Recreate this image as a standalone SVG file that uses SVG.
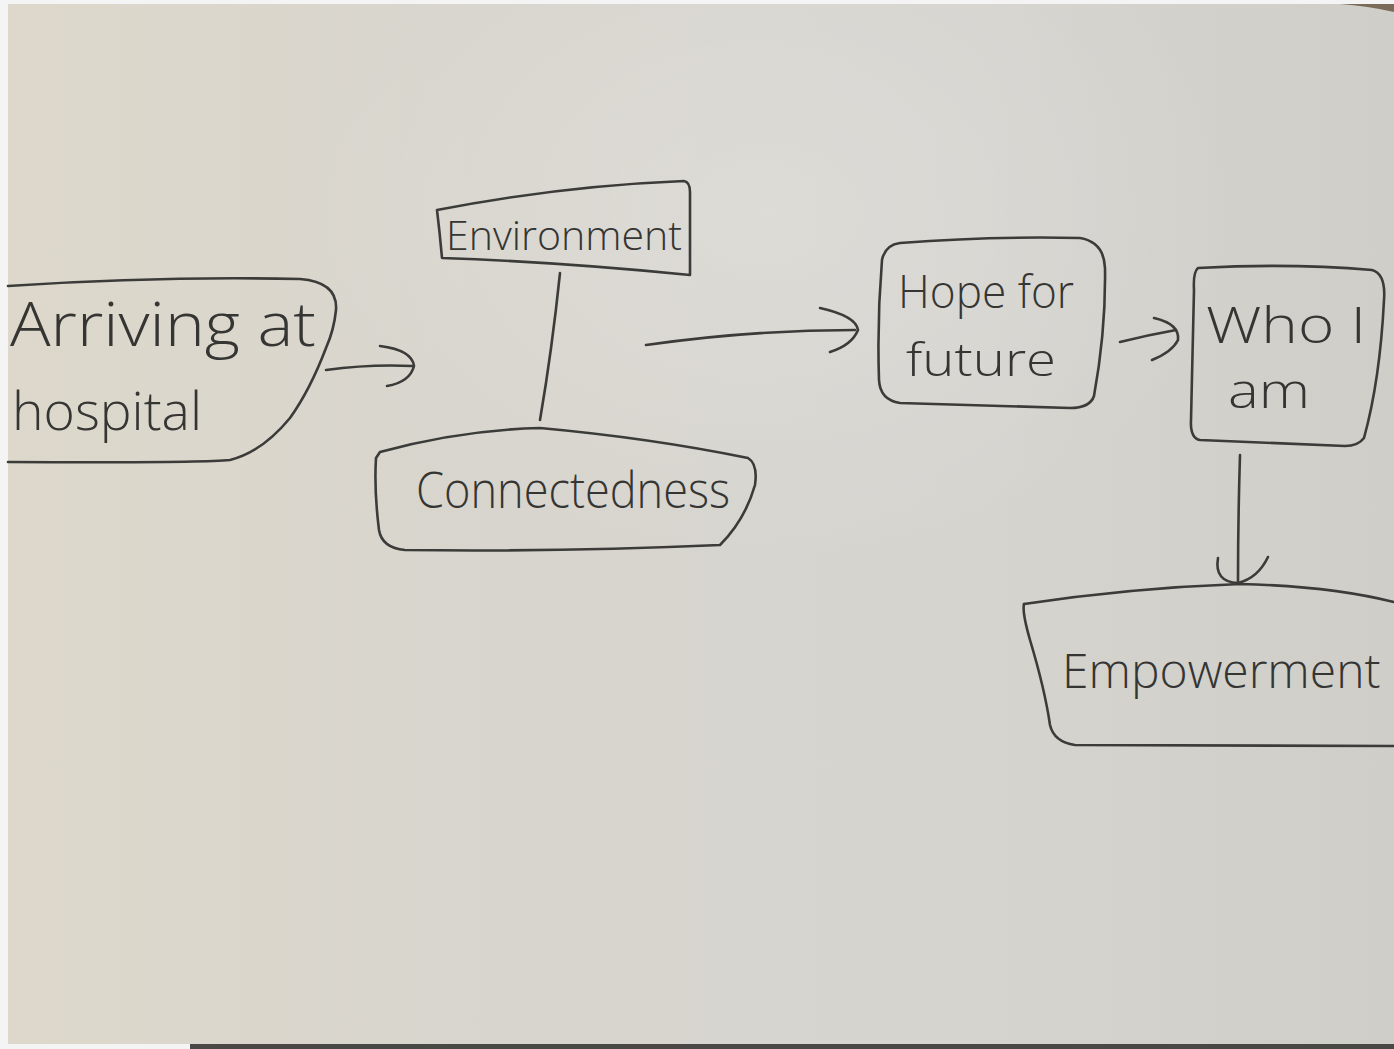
<svg xmlns="http://www.w3.org/2000/svg" width="1394" height="1049" viewBox="0 0 1394 1049">
  <defs>
    <linearGradient id="paper" x1="0" y1="0" x2="1" y2="0">
      <stop offset="0" stop-color="#ddd8cb"/>
      <stop offset="0.35" stop-color="#d8d5ce"/>
      <stop offset="0.7" stop-color="#d5d4cf"/>
      <stop offset="1" stop-color="#cfcec9"/>
    </linearGradient>
    <radialGradient id="crease" cx="0.55" cy="0.2" r="0.35">
      <stop offset="0" stop-color="#ffffff" stop-opacity="0.16"/>
      <stop offset="1" stop-color="#ffffff" stop-opacity="0"/>
    </radialGradient>
    <style>
      .ink { fill: none; stroke: #3b3b39; stroke-width: 2.6; stroke-linecap: round; stroke-linejoin: round; }
      .hand { fill: #353533; font-family: "Open Sans", "DejaVu Sans", sans-serif; font-weight: 300; }
    </style>
  </defs>

  <!-- paper sheet -->
  <rect x="0" y="0" width="1394" height="1049" fill="#f4f4f4"/>
  <rect x="8" y="4" width="1386" height="1040" fill="url(#paper)"/>
  <rect x="8" y="4" width="1386" height="1040" fill="url(#crease)"/>
  <path d="M1340 4 L1394 4 L1394 12 Q1368 6 1340 4 Z" fill="#7a6a58"/>
  <rect x="190" y="1044" width="1204" height="5" fill="#4a4844"/>

  <!-- nodes -->
  <g id="arriving">
    <path class="ink" d="M8 286 Q160 276 300 279 Q338 282 336 310 Q334 330 326 348 Q310 390 290 418 Q262 452 230 460 Q200 463 8 462"/>
    <text class="hand" x="10" y="346" font-size="60" textLength="306" lengthAdjust="spacingAndGlyphs">Arriving at</text>
    <text class="hand" x="12" y="430" font-size="54" textLength="190" lengthAdjust="spacingAndGlyphs">hospital</text>
  </g>

  <g id="environment">
    <path class="ink" d="M437 210 Q560 186 684 181 Q690 182 690 192 L690 275 Q560 262 442 258 Q440 235 437 210 Z"/>
    <text class="hand" x="446" y="250" font-size="40" textLength="236" lengthAdjust="spacingAndGlyphs">Environment</text>
  </g>

  <g id="connectedness">
    <path class="ink" d="M380 452 Q460 430 540 428 Q650 438 748 458 Q758 464 755 485 Q745 520 720 545 Q560 552 405 550 Q382 548 379 530 Q374 490 376 458 Z"/>
    <text class="hand" x="416" y="508" font-size="50" textLength="314" lengthAdjust="spacingAndGlyphs">Connectedness</text>
  </g>

  <g id="hope">
    <path class="ink" d="M900 243 Q990 236 1080 238 Q1104 242 1105 268 Q1106 330 1094 396 Q1090 408 1070 408 L900 403 Q880 400 879 380 Q877 320 882 260 Q885 245 900 243 Z"/>
    <text class="hand" x="898" y="308" font-size="46" textLength="176" lengthAdjust="spacingAndGlyphs">Hope for</text>
    <text class="hand" x="906" y="376" font-size="46" textLength="150" lengthAdjust="spacingAndGlyphs">future</text>
  </g>

  <g id="whoami">
    <path class="ink" d="M1198 268 Q1290 263 1372 270 Q1386 274 1384 300 Q1380 380 1364 438 Q1358 446 1345 446 L1200 440 Q1190 438 1191 420 L1194 290 Q1193 272 1198 268 Z"/>
    <text class="hand" x="1206" y="343" font-size="50" textLength="160" lengthAdjust="spacingAndGlyphs">Who I</text>
    <text class="hand" x="1228" y="408" font-size="48" textLength="82" lengthAdjust="spacingAndGlyphs">am</text>
  </g>

  <g id="empowerment">
    <path class="ink" d="M1024 604 Q1130 588 1240 584 Q1330 586 1394 602"/>
    <path class="ink" d="M1024 604 Q1022 612 1030 640 Q1045 690 1050 725 Q1054 742 1075 745 L1394 746"/>
    <text class="hand" x="1062" y="688" font-size="48">Empowerment</text>
  </g>

  <!-- connectors -->
  <g id="connectors">
    <path class="ink" d="M326 370 Q370 364 412 366"/>
    <path class="ink" d="M380 346 Q412 350 414 366 Q410 382 387 386"/>

    <path class="ink" d="M560 273 Q552 350 540 420"/>

    <path class="ink" d="M646 345 Q750 330 855 330"/>
    <path class="ink" d="M820 308 Q856 316 858 330 Q852 345 830 352"/>

    <path class="ink" d="M1120 342 Q1148 335 1176 330"/>
    <path class="ink" d="M1154 318 Q1180 324 1178 340 Q1172 352 1152 360"/>

    <path class="ink" d="M1240 455 Q1238 520 1238 582"/>
    <path class="ink" d="M1218 558 Q1214 582 1238 583 Q1258 578 1268 557"/>
  </g>
</svg>
